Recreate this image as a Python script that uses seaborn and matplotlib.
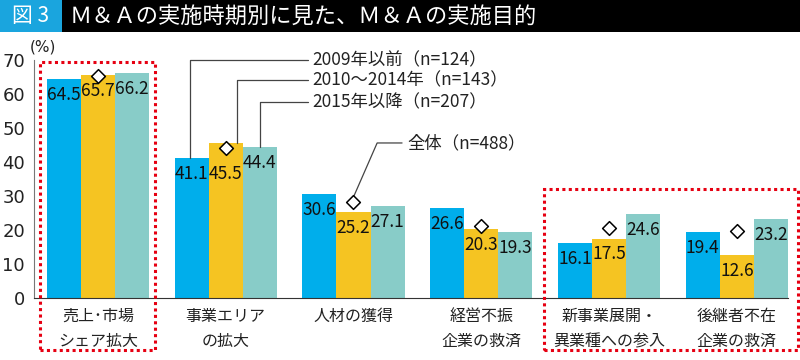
import matplotlib
matplotlib.use("Agg")
import numpy as np
import pandas as pd
import matplotlib.pyplot as plt
import seaborn as sns
from matplotlib.patches import Rectangle

categories = ["売上･市場\nシェア拡大", "事業エリア\nの拡大", "人材の獲得",
              "経営不振\n企業の救済", "新事業展開・\n異業種への参入", "後継者不在\n企業の救済"]
periods = ["2009年以前（n=124）", "2010～2014年（n=143）", "2015年以降（n=207）"]
before_2009 = [64.5, 41.1, 30.6, 26.6, 16.1, 19.4]
y2010_2014 = [65.7, 45.5, 25.2, 20.3, 17.5, 12.6]
since_2015 = [66.2, 44.4, 27.1, 19.3, 24.6, 23.2]
overall = [65.4, 44.1, 28.3, 21.3, 20.6, 19.8]
overall_label = "全体（n=488）"
colors = ["#00AEEB", "#F5C422", "#88CCC8"]

df = pd.DataFrame({
    "category": categories * 3,
    "period": np.repeat(periods, len(categories)),
    "value": before_2009 + y2010_2014 + since_2015,
})

sns.set_style("white")
plt.rcParams["font.family"] = ["Noto Sans CJK JP", "DejaVu Sans"]

fig, ax = plt.subplots(figsize=(8, 3.6), dpi=100)
fig.subplots_adjust(left=0.0425, right=0.985, bottom=0.1722, top=0.8333)

sns.barplot(data=df, x="category", y="value", hue="period", order=categories,
            hue_order=periods, palette=colors, width=0.8, saturation=1,
            linewidth=0, legend=False, ax=ax)

# value labels inside the bar tops; a label hidden by the diamond drops to
# the lowest label of its group
off = 4.7
for g in range(len(categories)):
    bars = [cont[g] for cont in ax.containers]
    ys = [b.get_height() - off for b in bars]
    if overall[g] - 2.1 < ys[1] + 2.3:
        ys[1] = min(ys)
    for b, yc in zip(bars, ys):
        ax.text(b.get_x() + b.get_width() / 2, yc, f"{b.get_height():.1f}",
                ha="center", va="center", fontsize=12.5, color="#111111")

# overall (diamonds)
sns.stripplot(x=categories, y=overall, order=categories, marker="D", size=7,
              color="white", edgecolor="black", linewidth=1.1, jitter=False,
              ax=ax, zorder=5)

ax.set_xlim(-0.5, 5.4)
ax.set_ylim(0, 70)
ax.set_yticks(range(0, 71, 10))
ax.set_xlabel("")
ax.set_ylabel("")
for s in ["top", "right"]:
    ax.spines[s].set_visible(False)
ax.spines["left"].set_color("#777777")
ax.spines["bottom"].set_color("#333333")
ax.tick_params(axis="y", direction="in", length=4.5, width=0.8, color="#777777",
               pad=6.5, labelsize=13, labelcolor="#222222")
ax.tick_params(axis="x", length=0, pad=7, labelsize=11.5, labelcolor="#222222")
for lab in ax.get_yticklabels():
    lab.set_family("DejaVu Sans")
for lab in ax.get_xticklabels():
    lab.set_linespacing(1.65)
    lab.set_verticalalignment("top")

ax.text(-0.535, 73.8, "(%)", fontsize=11, ha="left", va="center",
        color="#222222", family="DejaVu Sans")

# leader lines to the series labels
lc = "#444444"
label_y = [70, 64.1, 57.7]
x_off = [-0.01, 0.085, 0.0]
for i, cont in enumerate(ax.containers[:3]):
    bar = cont[1]
    bx = bar.get_x() + bar.get_width() / 2 + x_off[i]
    ax.plot([bx, bx, 1.645], [bar.get_height(), label_y[i], label_y[i]],
            color=lc, lw=0.9, clip_on=False, zorder=4)
    ax.text(1.68, label_y[i], periods[i], va="center", ha="left",
            fontsize=12.5, color="#222222")

ax.plot([2.0, 2.185, 2.38], [29.7, 45.6, 45.6], color=lc, lw=0.9,
        clip_on=False, zorder=4)
ax.text(2.42, 45.6, overall_label, va="center", ha="left", fontsize=12.5,
        color="#222222")

# red dotted highlight boxes
for x0, x1, ytop in [(-0.453, 0.447, 69.5), (3.49, 5.48, 32.1)]:
    ax.add_patch(Rectangle((x0, -15.3), x1 - x0, ytop + 15.3, fill=False,
                           edgecolor="#E60012", lw=2.2, linestyle=(0, (1, 1.1)),
                           clip_on=False, zorder=6))

# title bar
th = 32 / 360
fig.patches.append(Rectangle((0, 1 - th), 62 / 800, th, transform=fig.transFigure,
                             facecolor="#1AA5DE", edgecolor="none", zorder=0))
fig.patches.append(Rectangle((62 / 800, 1 - th), 1 - 62 / 800, th,
                             transform=fig.transFigure, facecolor="black",
                             edgecolor="none", zorder=0))
fig.text(31 / 800, 1 - th / 2, "図 3", color="white", fontsize=15,
         ha="center", va="center")
fig.text(70 / 800, 1 - th / 2, "Ｍ＆Ａの実施時期別に見た、Ｍ＆Ａの実施目的",
         color="white", fontsize=16, ha="left", va="center")

fig.savefig("out.png", dpi=100)
